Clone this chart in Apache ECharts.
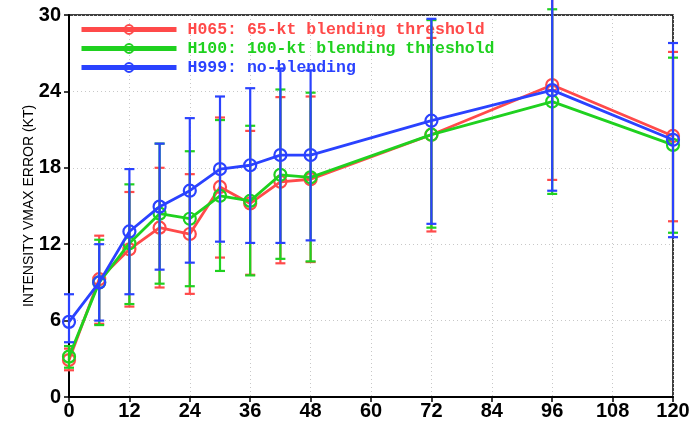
<!DOCTYPE html>
<html>
<head>
<meta charset="utf-8">
<script src="https://cdn.jsdelivr.net/npm/echarts@6/dist/echarts.min.js"></script>
<style>
  html, body { margin: 0; padding: 0; background: #fff; }
  #chart { width: 699px; height: 423px; }
</style>
</head>
<body>
<div id="chart"></div>
<script>
// forecast hours
var hours = [0, 6, 12, 18, 24, 30, 36, 42, 48, 72, 96, 120]
var yTicks = [0, 6, 12, 18, 24, 30]

// H065: 65-kt blending threshold
var h065Mean = [2.9, 9.25, 11.6, 13.3, 12.8, 16.5, 15.2, 16.9, 17.1, 20.6, 24.5, 20.5]
var h065Hi = [3.8, 12.67, 16.1, 18.0, 17.5, 21.95, 20.9, 23.55, 23.6, 28.2, 31.8, 27.1]
var h065Lo = [2.1, 5.75, 7.1, 8.6, 8.1, 10.95, 9.6, 10.5, 10.6, 13.0, 17.05, 13.8]

// H100: 100-kt blending threshold
var h100Mean = [3.17, 9.0, 12.07, 14.4, 14.0, 15.8, 15.4, 17.45, 17.25, 20.6, 23.2, 19.8]
var h100Hi = [4.0, 12.35, 16.7, 19.9, 19.3, 21.75, 21.3, 24.15, 23.9, 29.6, 30.45, 26.65]
var h100Lo = [2.3, 5.65, 7.3, 8.9, 8.7, 9.9, 9.55, 10.85, 10.65, 13.3, 15.95, 12.9]

// H999: no-blending
var h999Mean = [5.9, 9.0, 13.0, 14.95, 16.2, 17.9, 18.2, 19.0, 19.0, 21.7, 24.1, 20.2]
var h999Hi = [8.07, 12.0, 17.9, 19.9, 21.9, 23.6, 24.25, 25.8, 25.65, 29.7, 32.5, 27.8]
var h999Lo = [4.3, 6.0, 8.07, 10.0, 10.55, 12.2, 12.1, 12.1, 12.3, 13.6, 16.2, 12.55]

var names = ['H065: 65-kt blending threshold', 'H100: 100-kt blending threshold', 'H999: no-blending']
var colors = ['#ff4a4a', '#1fd11f', '#2a42ff']
var means = [h065Mean, h100Mean, h999Mean]
var his = [h065Hi, h100Hi, h999Hi]
var los = [h065Lo, h100Lo, h999Lo]

var chart = echarts.init(document.getElementById('chart'))

// 误差棒
function errorBar(color) {
  return function(params, api) {
    var top = api.coord([api.value(0), api.value(1)])
    var bot = api.coord([api.value(0), api.value(2)])
    var w = 5
    var style = { stroke: color, lineWidth: 2.2, fill: null }
    return {
      type: 'group',
      children: [
        { type: 'line', shape: { x1: top[0], y1: top[1], x2: bot[0], y2: bot[1] }, style: style },
        { type: 'line', shape: { x1: top[0] - w, y1: top[1], x2: top[0] + w, y2: top[1] }, style: style },
        { type: 'line', shape: { x1: bot[0] - w, y1: bot[1], x2: bot[0] + w, y2: bot[1] }, style: style }
      ]
    }
  }
}

var series = []
for (var i = 0; i < 3; i++) {
  series.push({
    name: names[i],
    type: 'line',
    data: hours.map(function(h, k) { return [h, means[i][k]] }),
    symbol: 'circle',
    symbolSize: 12,
    showSymbol: true,
    itemStyle: { color: '#ffffff00', borderColor: colors[i], borderWidth: 2.2 },
    lineStyle: { color: colors[i], width: 2.8 },
    z: 2 + i * 2,
    animation: false
  })
  series.push({
    name: 'err' + i,
    type: 'custom',
    clip: false,
    renderItem: errorBar(colors[i]),
    data: hours.map(function(h, k) { return [h, his[i][k], los[i][k]] }),
    encode: { x: 0, y: [1, 2] },
    z: 3 + i * 2,
    animation: false
  })
}

var tickFont = {
  color: '#000', fontFamily: 'Liberation Sans', fontWeight: 'bold', fontSize: 20
}

chart.setOption({
  backgroundColor: '#fff',
  animation: false,
  grid: {
    left: 69, right: 26, top: 15, bottom: 26,
    show: true, borderColor: '#000', borderWidth: 1.5, backgroundColor: 'transparent'
  },
  legend: {
    orient: 'vertical',
    left: 79,
    top: 21,
    padding: 0,
    itemWidth: 95,
    itemHeight: 11,
    itemGap: 2,
    selectedMode: false,
    lineStyle: { width: 5 },
    itemStyle: { color: 'rgba(0,0,0,0)', borderWidth: 2 },
    textStyle: {
      fontFamily: 'Liberation Mono',
      fontWeight: 'bold',
      fontSize: 16.5,
      padding: [0, 0, 0, 6]
    },
    data: names.map(function(n, i) {
      return { name: n, textStyle: { color: colors[i] } }
    })
  },
  xAxis: {
    type: 'value',
    min: 0,
    max: 120,
    interval: 12,
    axisLine: { lineStyle: { color: '#000', width: 2 } },
    axisTick: { show: true, length: 5, lineStyle: { color: '#000', width: 1.5 } },
    axisLabel: Object.assign({ margin: 4 }, tickFont),
    splitLine: { show: true, lineStyle: { color: '#c8c8c8', type: [1, 3], width: 1 } }
  },
  yAxis: {
    type: 'value',
    min: yTicks[0],
    max: yTicks[yTicks.length - 1],
    interval: 6,
    name: 'INTENSITY VMAX ERROR (KT)',
    nameLocation: 'middle',
    nameGap: 33,
    nameMoveOverlap: false,
    nameTextStyle: { color: '#000', fontFamily: 'Liberation Sans', fontSize: 14 },
    axisLine: { show: true, lineStyle: { color: '#000', width: 2 } },
    axisTick: { show: true, length: 5, lineStyle: { color: '#000', width: 1.5 } },
    axisLabel: Object.assign({ margin: 8 }, tickFont),
    splitLine: { show: true, lineStyle: { color: '#c8c8c8', type: [1, 3], width: 1 } }
  },
  series: series
})
</script>
</body>
</html>
